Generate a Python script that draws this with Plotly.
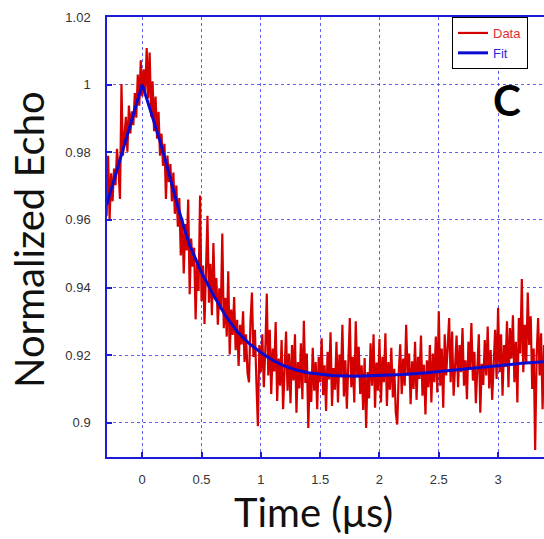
import numpy as np
import plotly.graph_objects as go

# ---- data ----
t_start = -0.3
t_step = 0.0125

echo_data = [
    # -0.3 .. 0.0
    0.9612, 0.9790, 0.9601, 0.9738, 0.9655, 0.9752, 0.9703, 0.9810, 0.9748, 0.9662,
    1.0002, 0.9790, 0.9850, 0.9905, 0.9802, 0.9938, 0.9856, 0.9921, 0.9880, 0.9975,
    0.9902, 1.0030, 0.9938, 1.0072, 0.9965,
    # 0.0125 .. 0.5
    1.0045, 0.9975, 1.0108, 0.9960, 1.0095, 0.9905, 1.0010, 0.9862, 0.9965, 0.9840,
    0.9920, 0.9790, 0.9855, 0.9760, 0.9825, 0.9662, 0.9790, 0.9712, 0.9765, 0.9655,
    0.9740, 0.9618, 0.9702, 0.9580, 0.9665, 0.9495, 0.9605, 0.9442, 0.9588, 0.9510,
    0.9660, 0.9380, 0.9545, 0.9462, 0.9518, 0.9306, 0.9475, 0.9390, 0.9672, 0.9360,
    # 0.5125 .. 1.0
    0.9465, 0.9292, 0.9440, 0.9612, 0.9355, 0.9470, 0.9318, 0.9532, 0.9365, 0.9428,
    0.9290, 0.9398, 0.9335, 0.9560, 0.9280, 0.9370, 0.9255, 0.9448, 0.9202, 0.9335,
    0.9260, 0.9372, 0.9215, 0.9305, 0.9168, 0.9290, 0.9232, 0.9330, 0.9180, 0.9262,
    0.9148, 0.9120, 0.9298, 0.9385, 0.9195, 0.9275, 0.9120, 0.8990, 0.9230, 0.9150,
    # 1.0125 .. 2.0
    0.9262, 0.9105, 0.9215, 0.9382, 0.9140, 0.9275, 0.9085, 0.9220, 0.9152, 0.9298,
    0.9065, 0.9190, 0.9110, 0.9245, 0.9040, 0.9172, 0.9270, 0.9095, 0.9205, 0.9058,
    0.9230, 0.9125, 0.9262, 0.9030, 0.9180, 0.9102, 0.9235, 0.9070, 0.9302, 0.9118,
    0.9205, 0.8985, 0.9150, 0.9062, 0.9222, 0.9095, 0.9180, 0.9040, 0.9195, 0.9120,
    0.9250, 0.9082, 0.9170, 0.9035, 0.9210, 0.9128, 0.9268, 0.9050, 0.9162, 0.9098,
    0.9240, 0.9060, 0.9202, 0.9135, 0.9290, 0.9078, 0.9185, 0.9042, 0.9215, 0.9310,
    0.9105, 0.9195, 0.9060, 0.9300, 0.9140, 0.9225, 0.9085, 0.9170, 0.9038, 0.9192,
    0.8985, 0.9150, 0.9072, 0.9235, 0.9110, 0.9262, 0.9045, 0.9178, 0.9095, 0.9248,
    # 2.0125 .. 3.0
    0.9060, 0.9195, 0.9120, 0.9265, 0.9050, 0.9180, 0.9098, 0.9222, 0.9075, 0.9160,
    0.9030, 0.8995, 0.9150, 0.9232, 0.9085, 0.9190, 0.9110, 0.9290, 0.9140, 0.9205,
    0.9055, 0.9182, 0.9100, 0.9240, 0.9068, 0.9195, 0.9130, 0.9258, 0.9080, 0.9172,
    0.9025, 0.9185, 0.9105, 0.9230, 0.9060, 0.9205, 0.9120, 0.9255, 0.9090, 0.9330,
    0.9110, 0.9220, 0.9045, 0.9262, 0.9140, 0.9235, 0.9310, 0.9120, 0.9270, 0.9080,
    0.9198, 0.9258, 0.9105, 0.9230, 0.9150, 0.9280, 0.9110, 0.9185, 0.9070, 0.9240,
    0.9160, 0.9295, 0.9125, 0.9210, 0.9058, 0.9190, 0.9262, 0.9030, 0.9175, 0.9112,
    0.9245, 0.9140, 0.9285, 0.9102, 0.9215, 0.9068, 0.9200, 0.9275, 0.9130, 0.9340,
    # 3.0125 .. 3.4
    0.9150, 0.9262, 0.9080, 0.9230, 0.9165, 0.9300, 0.9105, 0.9280, 0.9190, 0.9318,
    0.9120, 0.9240, 0.9060, 0.9310, 0.9205, 0.9425, 0.9150, 0.9290, 0.9175, 0.9385,
    0.9230, 0.9315, 0.9100, 0.9220, 0.8920, 0.9200, 0.9310, 0.9140, 0.9265, 0.9040,
    0.9230, 0.9185,
]
echo_time = np.round(t_start + t_step * np.arange(len(echo_data)), 4)

fit_time = [-0.3, -0.25, -0.2, -0.15, -0.1, -0.05, 0.0, 0.05, 0.1, 0.15, 0.2, 0.25,
            0.3, 0.35, 0.4, 0.45, 0.5, 0.6, 0.7, 0.8, 0.9, 1.0, 1.1, 1.2, 1.3, 1.4,
            1.5, 1.6, 1.8, 2.0, 2.2, 2.4, 2.6, 2.8, 3.0, 3.2, 3.4]
fit_values = [0.9645, 0.9705, 0.9764, 0.9823, 0.9882, 0.9941, 1.0, 0.9945, 0.9890,
              0.9833, 0.9770, 0.9703, 0.9640, 0.9580, 0.9525, 0.9485, 0.9445, 0.9378,
              0.9318, 0.9270, 0.9235, 0.9208, 0.9185, 0.9168, 0.9156, 0.9148, 0.9143,
              0.9140, 0.9138, 0.9140, 0.9143, 0.9148, 0.9155, 0.9162, 0.9170, 0.9176,
              0.9181]

x_ticks = [0, 0.5, 1, 1.5, 2, 2.5, 3]
x_tick_labels = ["0", "0.5", "1", "1.5", "2", "2.5", "3"]
y_ticks = [0.9, 0.92, 0.94, 0.96, 0.98, 1.0, 1.02]
y_tick_labels = ["0.9", "0.92", "0.94", "0.96", "0.98", "1", "1.02"]

# ---- figure ----
W, H = 544, 539
ML, MT, MB, MR = 107, 17, 82, 0
axis_col = "#1c1cd6"
grid_col = "rgba(70,70,235,0.85)"

fig = go.Figure()
fig.add_trace(go.Scatter(
    x=echo_time, y=echo_data, mode="lines",
    line=dict(color="#d40000", width=2.2),
    name="<span style='color:#e03030'>Data</span>",
))
fig.add_trace(go.Scatter(
    x=fit_time, y=fit_values, mode="lines",
    line=dict(color="#0a0ad0", width=3),
    name="<span style='color:#2b2bdc'>Fit</span>",
))

tick_font = dict(family="Liberation Sans, Arial, sans-serif", size=13, color="#333333")
fig.update_xaxes(
    range=[-0.297, 3.387], tickvals=x_ticks, ticktext=x_tick_labels,
    showgrid=True, gridcolor=grid_col, griddash="dot", gridwidth=1,
    showline=True, linecolor=axis_col, linewidth=1.5, mirror=True,
    ticks="inside", ticklen=5, tickcolor=axis_col, tickwidth=1.5,
    zeroline=False, tickfont=tick_font, ticklabelstandoff=10,
)
fig.update_yaxes(
    range=[0.8899, 1.02], tickvals=y_ticks, ticktext=y_tick_labels,
    showgrid=True, gridcolor=grid_col, griddash="dot", gridwidth=1,
    showline=True, linecolor=axis_col, linewidth=1.5, mirror=False,
    ticks="inside", ticklen=5, tickcolor=axis_col, tickwidth=1.5,
    zeroline=False, tickfont=tick_font, ticklabelstandoff=12,
)

pw = W - ML - MR
ph = H - MT - MB
title_font = dict(family="Lato, 'Open Sans', sans-serif", size=40, color="#111111")
fig.add_annotation(
    text="Time (μs)", xref="paper", yref="paper",
    x=(313 - ML) / pw, y=(H - MB - 512) / ph, xanchor="center", yanchor="middle",
    showarrow=False, font=title_font,
)
fig.add_annotation(
    text="Normalized Echo", xref="paper", yref="paper", textangle=-90,
    x=(29 - ML) / pw, y=(H - MB - 240) / ph, xanchor="center", yanchor="middle",
    showarrow=False, font=title_font,
)
fig.add_annotation(
    text="<b>C</b>", xref="paper", yref="paper",
    x=(507 - ML) / pw, y=(H - MB - 100) / ph, xanchor="center", yanchor="middle",
    showarrow=False, font=dict(family="Lato, sans-serif", size=42, color="#000000"),
)

fig.update_layout(
    width=W, height=H,
    margin=dict(l=ML, r=MR, t=MT, b=MB, pad=0),
    paper_bgcolor="white", plot_bgcolor="white",
    showlegend=True,
    legend=dict(
        x=(452 - ML) / pw, y=1, xanchor="left", yanchor="top",
        bgcolor="white", bordercolor="#000000", borderwidth=1,
        font=dict(family="Liberation Sans, Arial, sans-serif", size=13),
        tracegroupgap=0,
    ),
)

fig.write_html(
    "out.html",
    config={"displayModeBar": False},
    post_script="document.body.style.margin='0';document.body.style.overflow='hidden';",
)
